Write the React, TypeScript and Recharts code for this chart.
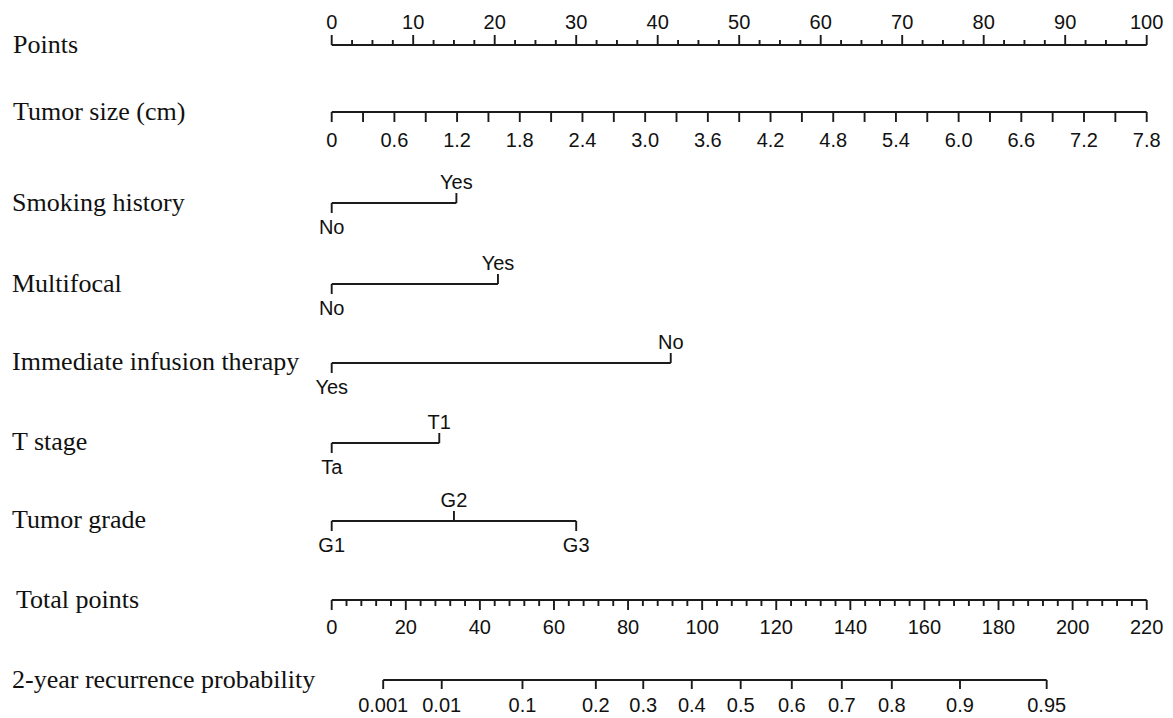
import { LineChart, Line, XAxis, YAxis } from "recharts";

// ---- data ----
const pointTicks = range(0, 100, 2.5);
const tumorSizeTicks = range(0, 7.8, 0.3);
const totalPointTicks = range(0, 220, 4);

const smokingLevels = ["No", "Yes"];
const smokingPoints = [0, 15.3];
const multifocalLevels = ["No", "Yes"];
const multifocalPoints = [0, 20.4];
const infusionLevels = ["Yes", "No"];
const infusionPoints = [0, 41.6];
const tStageLevels = ["Ta", "T1"];
const tStagePoints = [0, 13.2];
const gradeLevels = ["G1", "G2", "G3"];
const gradePoints = [0, 15.0, 30.0];

const probLabels = ["0.001", "0.01", "0.1", "0.2", "0.3", "0.4", "0.5", "0.6", "0.7", "0.8", "0.9", "0.95"];
const probAtTotalPoints = [13.9, 29.7, 51.5, 71.3, 84.1, 97.2, 110.4, 124.2, 137.7, 151.2, 169.6, 193.0];

// ---- layout ----
const W = 1173;
const H = 718;
const ROW_H = 80;
const MID = ROW_H / 2;
const LEFT = 331.7;
const RIGHT = W - 1146.7;
const INK = "#1b1b1b";
const STROKE = 1.9;
const SANS = "'Liberation Sans', Arial, sans-serif";
const SERIF = "'Liberation Serif', 'Times New Roman', serif";

function range(start: number, end: number, step: number) {
  const out: number[] = [];
  const n = Math.round((end - start) / step);
  for (let i = 0; i <= n; i++) out.push(Math.round((start + i * step) * 1000) / 1000);
  return out;
}

type TickOpts = {
  dir: 1 | -1;
  majorLen: number;
  minorLen: number;
  gap: number;
  isMajor: (v: number, i: number) => boolean;
  format: (v: number, i: number) => string;
};

const makeTick = (o: TickOpts) => (props: any) => {
  const { x, y, payload, index } = props;
  const major = o.isMajor(payload.value, index);
  const text = o.format(payload.value, index);
  return (
    <g key={`tick-${index}`}>
      <line x1={x} x2={x} y1={y} y2={y + o.dir * (major ? o.majorLen : o.minorLen)} stroke={INK} strokeWidth={STROKE} />
      {text ? (
        <text x={x} y={y + o.dir * o.gap} dy="0.36em" textAnchor="middle" fontFamily={SANS} fontSize={20} fill="#111">
          {text}
        </text>
      ) : null}
    </g>
  );
};

const pointsTick = makeTick({
  dir: -1, majorLen: 10, minorLen: 5, gap: 23,
  isMajor: (v) => v % 10 === 0,
  format: (v) => (v % 10 === 0 ? String(v) : ""),
});
const tumorTick = makeTick({
  dir: 1, majorLen: 10, minorLen: 10, gap: 28,
  isMajor: () => true,
  format: (v, i) => (i % 2 === 0 ? (v === 0 ? "0" : v.toFixed(1)) : ""),
});
const totalTick = makeTick({
  dir: 1, majorLen: 10, minorLen: 6, gap: 27,
  isMajor: (v) => v % 20 === 0,
  format: (v) => (v % 20 === 0 ? String(v) : ""),
});
const probTick = makeTick({
  dir: 1, majorLen: 9, minorLen: 9, gap: 25,
  isMajor: () => true,
  format: (_v, i) => probLabels[i],
});

const axisLine = { stroke: INK, strokeWidth: STROKE };

function Row({ lineY, children }: { lineY: number; children: any }) {
  return <div style={{ position: "absolute", left: 0, top: lineY - MID, width: W, height: ROW_H }}>{children}</div>;
}

function ScaleRow({ lineY, ticks, domain, tick, top }: any) {
  return (
    <Row lineY={lineY}>
      <LineChart
        width={W}
        height={ROW_H}
        data={ticks.map((t: number) => ({ t }))}
        margin={top ? { top: 0, bottom: MID - 10, left: LEFT, right: RIGHT } : { top: MID - 10, bottom: 0, left: LEFT, right: RIGHT }}
      >
        <XAxis
          dataKey="t"
          type="number"
          domain={domain}
          ticks={ticks}
          interval={0}
          orientation={top ? "top" : "bottom"}
          height={MID}
          tickSize={0}
          tickMargin={0}
          tickLine={false}
          axisLine={axisLine}
          tick={tick}
        />
      </LineChart>
    </Row>
  );
}

function LevelRow({ lineY, levels, points }: { lineY: number; levels: string[]; points: number[] }) {
  const data = levels.map((name, i) => ({ name, pts: points[i], y: 0.5, side: i % 2 === 0 ? 1 : -1 }));
  const dot = (p: any) => {
    const { cx, cy, payload, index } = p;
    const s = payload.side;
    return (
      <g key={`lvl-${index}`}>
        <line x1={cx} x2={cx} y1={cy} y2={cy + s * 10} stroke={INK} strokeWidth={STROKE} />
        <text x={cx} y={cy + s * (s > 0 ? 24 : 21)} dy="0.36em" textAnchor="middle" fontFamily={SANS} fontSize={20} fill="#111">
          {payload.name}
        </text>
      </g>
    );
  };
  return (
    <Row lineY={lineY}>
      <LineChart width={W} height={ROW_H} data={data} margin={{ top: 0, bottom: 0, left: LEFT, right: RIGHT }}>
        <XAxis dataKey="pts" type="number" domain={[0, 100]} hide height={0} />
        <YAxis type="number" domain={[0, 1]} hide width={0} />
        <Line dataKey="y" stroke={INK} strokeWidth={STROKE} dot={dot} isAnimationActive={false} />
      </LineChart>
    </Row>
  );
}

function ProbRow({ lineY }: { lineY: number }) {
  const span = [
    { tp: probAtTotalPoints[0], y: 0 },
    { tp: probAtTotalPoints[probAtTotalPoints.length - 1], y: 0 },
  ];
  return (
    <Row lineY={lineY}>
      <LineChart width={W} height={ROW_H} data={span} margin={{ top: MID - 10, bottom: 0, left: LEFT, right: RIGHT }}>
        <XAxis
          dataKey="tp"
          type="number"
          domain={[0, 220]}
          ticks={probAtTotalPoints}
          interval={0}
          height={MID}
          tickSize={0}
          tickMargin={0}
          tickLine={false}
          axisLine={false}
          tick={probTick}
        />
        <YAxis type="number" domain={[0, 1]} hide width={0} />
        <Line dataKey="y" stroke={INK} strokeWidth={STROKE} dot={false} isAnimationActive={false} />
      </LineChart>
    </Row>
  );
}

const titles = [
  { text: "Points", y: 45, x: 13 },
  { text: "Tumor size (cm)", y: 112, x: 13 },
  { text: "Smoking history", y: 203, x: 12 },
  { text: "Multifocal", y: 284, x: 12 },
  { text: "Immediate infusion therapy", y: 362, x: 12 },
  { text: "T stage", y: 442, x: 12 },
  { text: "Tumor grade", y: 520, x: 12 },
  { text: "Total points", y: 600, x: 16 },
  { text: "2-year recurrence probability", y: 680, x: 12 },
];

export default function App() {
  return (
    <div style={{ position: "absolute", left: 0, top: 0, width: W, height: H, background: "#fff", overflow: "hidden" }}>
      <svg width={W} height={H} style={{ position: "absolute", left: 0, top: 0 }}>
        {titles.map((t) => (
          <text key={t.text} x={t.x} y={t.y + 8} fontFamily={SERIF} fontSize={26} fill="#111">
            {t.text}
          </text>
        ))}
      </svg>
      <ScaleRow lineY={45} ticks={pointTicks} domain={[0, 100]} tick={pointsTick} top />
      <ScaleRow lineY={112} ticks={tumorSizeTicks} domain={[0, 7.8]} tick={tumorTick} />
      <LevelRow lineY={203} levels={smokingLevels} points={smokingPoints} />
      <LevelRow lineY={284} levels={multifocalLevels} points={multifocalPoints} />
      <LevelRow lineY={362.5} levels={infusionLevels} points={infusionPoints} />
      <LevelRow lineY={442.5} levels={tStageLevels} points={tStagePoints} />
      <LevelRow lineY={520.5} levels={gradeLevels} points={gradePoints} />
      <ScaleRow lineY={600} ticks={totalPointTicks} domain={[0, 220]} tick={totalTick} />
      <ProbRow lineY={680} />
    </div>
  );
}
